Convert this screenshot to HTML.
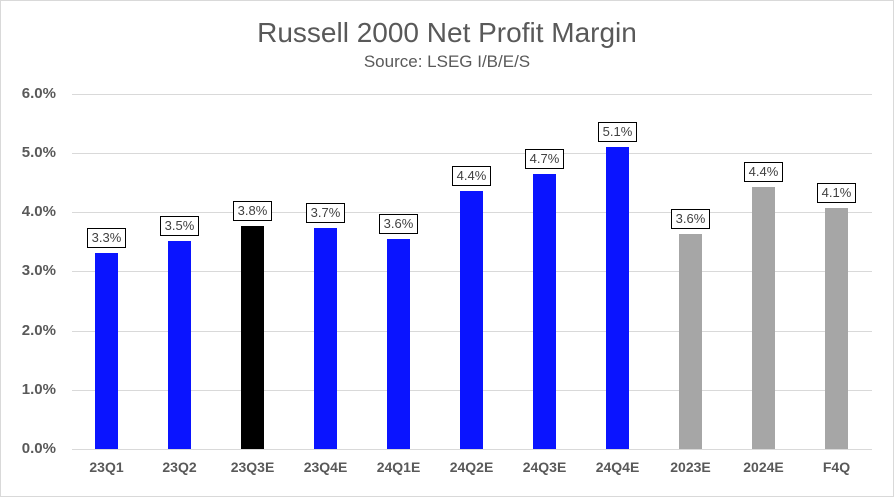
<!DOCTYPE html><html><head><style>
body{margin:0;width:894px;height:497px;background:#fff;font-family:"Liberation Sans",Arial,sans-serif;position:relative;overflow:hidden}
.b{position:absolute}
.frame{position:absolute;left:0;top:0;width:892px;height:495px;border:1px solid #d9d9d9}
.t{position:absolute;left:0;width:894px;text-align:center;color:#595959}
.g{position:absolute;left:72px;width:800px;height:1px;background:#d9d9d9}
.y{position:absolute;left:0;width:56px;text-align:right;font-weight:bold;font-size:15px;color:#595959}
.bar{position:absolute;width:23px;bottom:48px}
.lab{position:absolute;width:37px;height:18px;border:1px solid #000;background:#fff;font-size:13px;line-height:18px;text-align:center;color:#404040}
.x{position:absolute;top:459px;width:70px;text-align:center;font-weight:bold;font-size:14px;color:#595959}
</style></head><body>
<div class="frame"></div>
<div class="t" style="top:17px;font-size:28px">Russell 2000 Net Profit Margin</div>
<div class="t" style="top:52px;font-size:17px">Source: LSEG I/B/E/S</div>
<div class="g" style="top:94px"></div><div class="g" style="top:153px"></div><div class="g" style="top:212px"></div><div class="g" style="top:271px"></div><div class="g" style="top:331px"></div><div class="g" style="top:390px"></div><div class="g" style="top:449px"></div>
<div class="y" style="top:85px">6.0%</div><div class="y" style="top:144px">5.0%</div><div class="y" style="top:203px">4.0%</div><div class="y" style="top:262px">3.0%</div><div class="y" style="top:322px">2.0%</div><div class="y" style="top:381px">1.0%</div><div class="y" style="top:440px">0.0%</div>
<div id="c"></div>
<script>
var d=[["23Q1","3.3%",253,"#0a14ff"],["23Q2","3.5%",241,"#0a14ff"],["23Q3E","3.8%",226,"#000"],["23Q4E","3.7%",228,"#0a14ff"],["24Q1E","3.6%",239,"#0a14ff"],["24Q2E","4.4%",191,"#0a14ff"],["24Q3E","4.7%",174,"#0a14ff"],["24Q4E","5.1%",147,"#0a14ff"],["2023E","3.6%",234,"#a6a6a6"],["2024E","4.4%",187,"#a6a6a6"],["F4Q","4.1%",208,"#a6a6a6"]];
var h="";d.forEach(function(e,i){var cx=106.5+i*73;
h+='<div class="bar" style="left:'+(cx-11.5)+'px;top:'+e[2]+'px;background:'+e[3]+'"></div>';
h+='<div class="lab" style="left:'+(cx-19.5)+'px;top:'+(e[2]-25)+'px">'+e[1]+'</div>';
h+='<div class="x" style="left:'+(cx-35)+'px">'+e[0]+'</div>';});
document.getElementById("c").innerHTML=h;
</script>
</body></html>
